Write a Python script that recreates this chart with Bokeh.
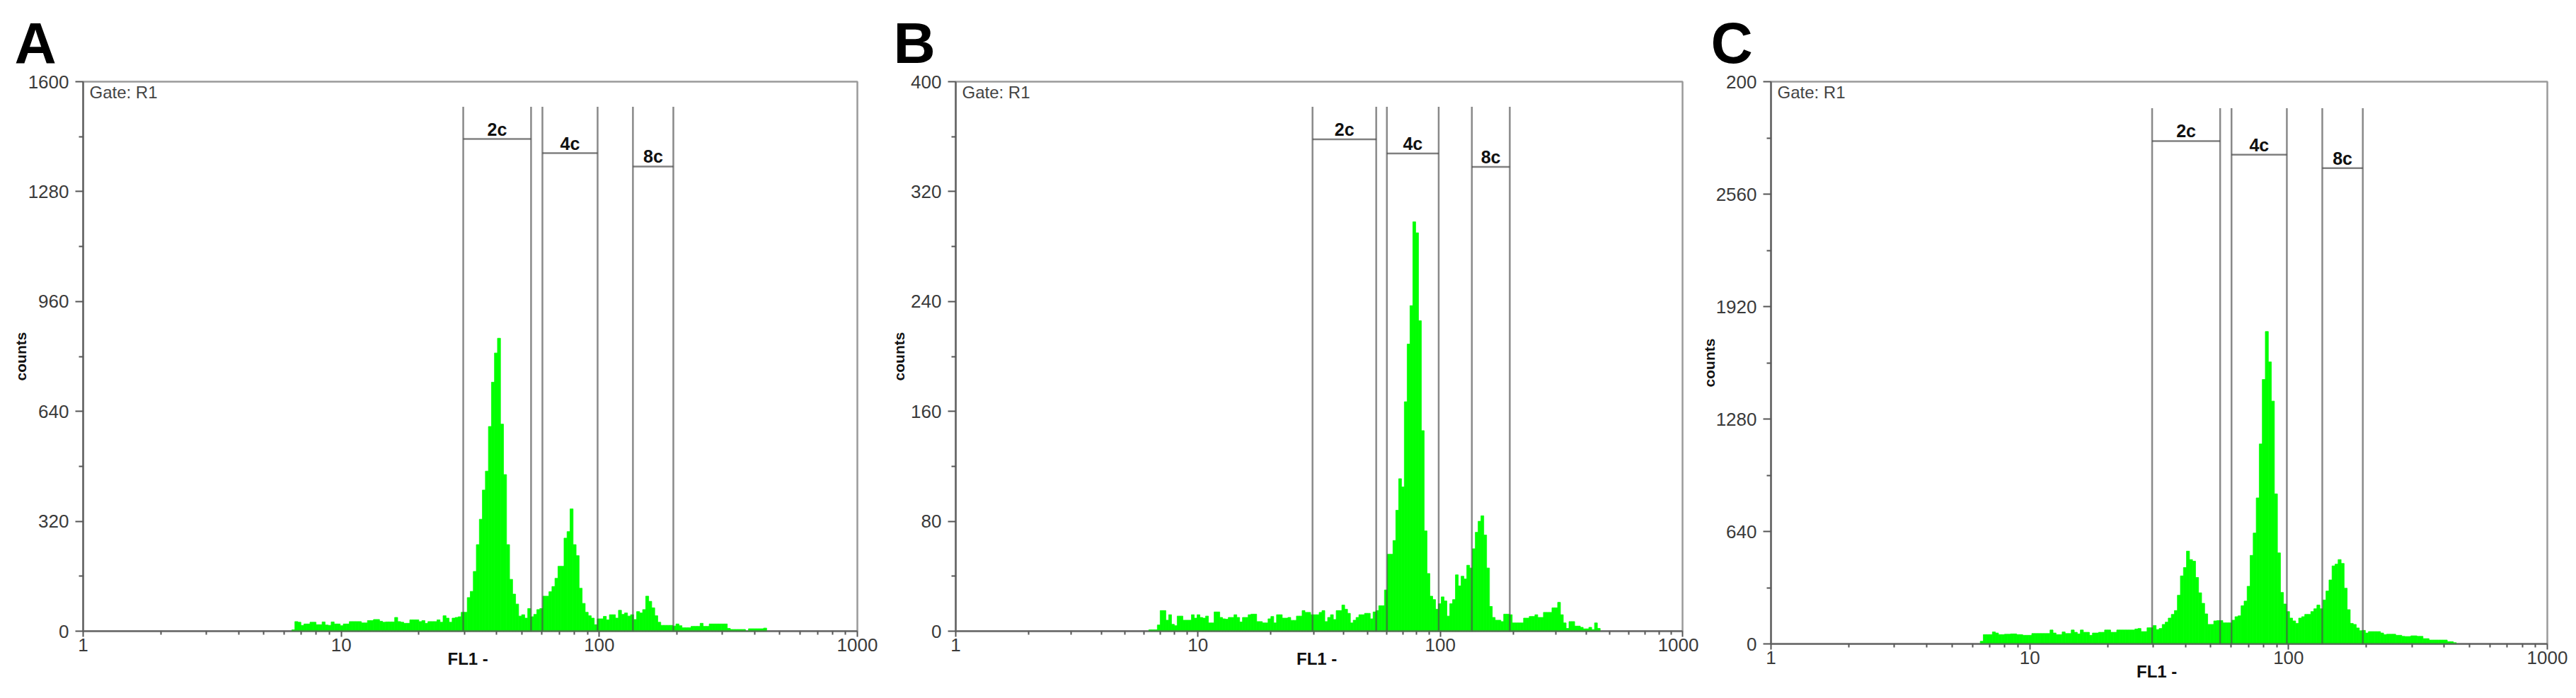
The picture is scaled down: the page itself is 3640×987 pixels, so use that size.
from bokeh.plotting import figure
from bokeh.layouts import row
from bokeh.models import Range1d, FixedTicker, PrintfTickFormatter, Label, ColumnDataSource
from bokeh.core.properties import value
from bokeh.embed import file_html
from bokeh.resources import INLINE

# ---------------- data ----------------
CHANNELS_PER_DECADE = 256 / 3          # log channels of the FL1 histogram

A_START = 69
A_COUNTS = [4, 28, 26, 17, 21, 21, 26, 26, 19, 19, 27, 18, 17, 27, 21, 21, 16, 21, 21, 28,
            28, 28, 28, 24, 24, 31, 31, 34, 34, 29, 26, 27, 27, 27, 40, 28, 26, 23, 23, 33,
            33, 33, 28, 31, 23, 28, 28, 28, 33, 26, 45, 38, 26, 38, 40, 42, 55, 55, 98, 116,
            174, 252, 326, 411, 466, 596, 725, 810, 853, 603, 456, 252, 151, 108, 79, 44, 48, 38, 66, 42,
            49, 63, 66, 102, 102, 115, 130, 154, 189, 189, 271, 290, 356, 252, 220, 125, 81, 55, 45, 38,
            19, 36, 36, 43, 33, 48, 48, 38, 61, 49, 53, 44, 48, 34, 57, 53, 63, 102, 87, 68,
            45, 26, 17, 17, 17, 17, 15, 21, 16, 10, 10, 10, 14, 14, 14, 23, 14, 14, 21, 21,
            21, 21, 21, 21, 8, 5, 5, 5, 5, 5, 0, 7, 7, 7, 7, 7, 9]

B_START = 68
B_COUNTS = [1, 1, 1, 4.5, 15, 15, 8, 12, 5, 4, 11, 11, 8, 8, 8, 12, 9.5, 12, 10, 9.5,
            11, 6, 6, 14, 14, 10, 9, 8.7, 10, 10, 12, 10, 6.7, 10, 10, 12, 12.4, 12.4, 7, 7,
            6, 6, 9, 10.7, 6, 12, 12, 9.5, 9.5, 10, 7.9, 7.9, 11, 11, 15, 13.7, 13.7, 12, 12, 12,
            13.7, 15, 7, 10, 12, 8.5, 15, 15, 19, 16, 13, 6, 8, 10, 12, 12, 13, 13, 9, 14,
            15, 18.5, 18.5, 30, 56, 56, 66, 88, 111, 105, 167, 209, 237, 298, 290, 226, 146, 73, 42, 25.5,
            23, 16, 20, 25, 22, 11, 20, 23, 41, 33, 40, 38, 48, 46, 60, 72, 80, 84, 70, 46,
            18, 10, 8, 8, 7, 12.4, 12.4, 12, 6, 6, 6, 6, 9.5, 9.5, 10.7, 10.7, 12, 10, 10, 13.7,
            13.7, 13.7, 17, 17, 21, 12, 6, 2, 7, 7, 3.7, 3.7, 2.8, 1.7, 1.7, 2.8, 1.2, 6, 2]

C_START = 69
C_COUNTS = [15, 53, 53, 53, 68, 62, 53, 53, 55, 55, 57, 57, 53, 53, 49, 49, 49, 59, 59, 59,
            59, 59, 59, 79, 62, 53, 53, 68, 59, 59, 79, 66, 57, 79, 66, 66, 49, 62, 62, 66,
            66, 79, 79, 66, 66, 79, 79, 79, 79, 79, 79, 85, 88, 70, 70, 92, 92, 105, 82, 88,
            111, 124, 147, 168, 190, 277, 387, 435, 528, 480, 471, 378, 291, 231, 171, 111, 111, 131, 133, 133,
            120, 120, 120, 135, 155, 160, 217, 244, 328, 504, 631, 831, 1138, 1505, 1778, 1605, 1382, 854, 518, 293,
            227, 184, 147, 131, 117, 147, 155, 168, 168, 184, 200, 221, 200, 250, 301, 364, 444, 454, 480, 458,
            317, 195, 117, 111, 91, 75, 77, 62, 70, 70, 70, 70, 62, 53, 55, 55, 55, 49, 49, 43,
            42, 42, 46, 46, 43, 43, 30, 30, 22, 22, 22, 22, 22, 22, 13, 13, 7]

GATE_NAMES = ["2c", "4c", "8c"]
GATE_LO = [29.7, 60.2, 135.0]
GATE_HI = [54.4, 98.5, 193.6]

X_TICKS = [1, 10, 100, 1000]

A_YTICKS = [0, 320, 640, 960, 1280, 1600]
B_YTICKS = [0, 80, 160, 240, 320, 400]
C_YTICKS = [0, 640, 1280, 1920, 2560, 3200]
C_YLABEL_OVERRIDES = {3200: "200"}

A_GATE_TOP, A_GATE_BARS = 1527, [1433, 1392, 1353]
B_GATE_TOP, B_GATE_BARS = 381.7, [358, 347.8, 338]
C_GATE_TOP, C_GATE_BARS = 3049, [2862, 2784, 2708]

PANELS = [
    dict(letter="A", start=A_START, counts=A_COUNTS, yticks=A_YTICKS, overrides={},
         gate_top=A_GATE_TOP, gate_bars=A_GATE_BARS,
         fw=1094, fh=777, left=117, right=29, bottom=82, ylab_standoff=-4, letter_dx=-97),
    dict(letter="B", start=B_START, counts=B_COUNTS, yticks=B_YTICKS, overrides={},
         gate_top=B_GATE_TOP, gate_bars=B_GATE_BARS,
         fw=1027, fh=777, left=110, right=23, bottom=82, ylab_standoff=2, letter_dx=-88),
    dict(letter="C", start=C_START, counts=C_COUNTS, yticks=C_YTICKS, overrides=C_YLABEL_OVERRIDES,
         gate_top=C_GATE_TOP, gate_bars=C_GATE_BARS,
         fw=1097, fh=795, left=101, right=30, bottom=64, ylab_standoff=-5, letter_dx=-85),
]

FONT = "Liberation Sans"
GREEN = "#00ff00"


def make_panel(cfg):
    yt = cfg["yticks"]
    ymax = yt[-1]
    p = figure(x_axis_type="log", frame_width=cfg["fw"], frame_height=cfg["fh"],
               x_range=Range1d(1, 1000), y_range=Range1d(0, ymax),
               min_border_left=cfg["left"], min_border_right=cfg["right"],
               min_border_top=115, min_border_bottom=cfg["bottom"],
               output_backend="svg", toolbar_location=None,
               background_fill_color="white", border_fill_color="white")
    p.xgrid.visible = False
    p.ygrid.visible = False
    p.outline_line_color = "#9a9a9a"
    p.outline_line_width = 2.5

    # panel letter as the title, pushed left of the frame
    p.title.text = cfg["letter"]
    p.title.align = "left"
    p.title.offset = cfg["letter_dx"]
    p.title.standoff = 20
    p.title.text_font = FONT
    p.title.text_font_size = "82px"
    p.title.text_font_style = "bold"
    p.title.text_color = "black"

    # histogram
    n = len(cfg["counts"])
    ch = [cfg["start"] + i for i in range(n)]
    left = [10 ** (c / CHANNELS_PER_DECADE) for c in ch]
    right = [10 ** ((c + 1) / CHANNELS_PER_DECADE) for c in ch]
    src = ColumnDataSource(dict(left=left, right=right, top=cfg["counts"], bottom=[0] * n))
    p.quad(left="left", right="right", top="top", bottom="bottom", source=src,
           fill_color=GREEN, line_color=GREEN, line_width=0.8)

    # gates
    gate_col = "#4a4a4a"
    p.segment(x0=GATE_LO, x1=GATE_LO, y0=[0] * 3, y1=[cfg["gate_top"]] * 3,
              line_color=gate_col, line_alpha=0.65, line_width=2.5)
    p.segment(x0=GATE_HI, x1=GATE_HI, y0=[0] * 3, y1=[cfg["gate_top"]] * 3,
              line_color=gate_col, line_alpha=0.65, line_width=2.5)
    p.segment(x0=GATE_LO, x1=GATE_HI, y0=cfg["gate_bars"], y1=cfg["gate_bars"],
              line_color=gate_col, line_alpha=0.7, line_width=2.5)
    mids = [(lo * hi) ** 0.5 for lo, hi in zip(GATE_LO, GATE_HI)]
    p.text(x=mids, y=cfg["gate_bars"], text=GATE_NAMES, text_align="center",
           text_baseline="bottom", text_font=value(FONT),
           text_font_size="25px", text_font_style="bold", text_color="#111111")

    # axes
    p.xaxis.ticker = FixedTicker(ticks=X_TICKS,
                                 minor_ticks=[m * d for d in (1, 10, 100) for m in range(2, 10)])
    p.xaxis.formatter = PrintfTickFormatter(format="%d")
    p.yaxis.ticker = FixedTicker(ticks=yt,
                                 minor_ticks=[(a + b) / 2 for a, b in zip(yt[:-1], yt[1:])])
    if cfg["overrides"]:
        p.yaxis.major_label_overrides = cfg["overrides"]

    for ax in (p.xaxis[0], p.yaxis[0]):
        ax.major_label_text_font = FONT
        ax.major_label_text_font_size = "26px"
        ax.major_label_text_color = "#3a3a3a"
        ax.axis_label_text_font = FONT
        ax.axis_label_text_font_style = "bold"
        ax.axis_label_text_color = "#111111"
        ax.major_tick_in = 0
        ax.minor_tick_in = 0
        ax.major_tick_line_color = "#555555"
        ax.minor_tick_line_color = "#555555"
        ax.major_tick_line_width = 2
        ax.minor_tick_line_width = 2

    xa = p.xaxis[0]
    xa.axis_label = "FL1  -"
    xa.axis_label_text_font_size = "24px"
    xa.axis_label_standoff = -6
    xa.major_tick_out = 8
    xa.minor_tick_out = 5
    xa.major_label_standoff = 2
    xa.axis_line_color = "#555555"
    xa.axis_line_alpha = 0.6
    xa.axis_line_width = 3

    ya = p.yaxis[0]
    ya.axis_label = "counts"
    ya.axis_label_text_font_size = "21px"
    ya.axis_label_standoff = cfg["ylab_standoff"]
    ya.major_tick_out = 11
    ya.minor_tick_out = 6
    ya.major_label_standoff = 9
    ya.axis_line_color = "#666666"
    ya.axis_line_width = 2.5

    p.add_layout(Label(x=9, y=cfg["fh"] - 1, x_units="screen", y_units="screen",
                       text="Gate: R1", text_baseline="top", text_font=FONT,
                       text_font_size="24px", text_color="#444444"))
    return p


figs = [make_panel(c) for c in PANELS]
layout = row(*figs)
open("out.html", "w").write(file_html(layout, INLINE))
